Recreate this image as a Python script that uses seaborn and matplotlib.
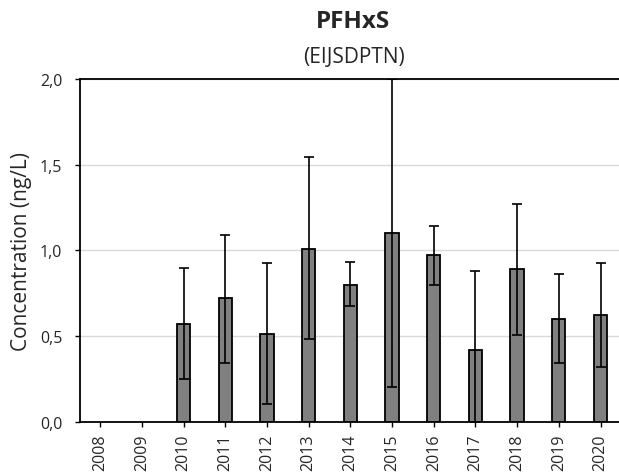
import numpy as np
import pandas as pd
import seaborn as sns
import matplotlib.pyplot as plt

years = ['2008', '2009', '2010', '2011', '2012', '2013', '2014',
         '2015', '2016', '2017', '2018', '2019', '2020']
means = [np.nan, np.nan, 0.57, 0.72, 0.51, 1.01, 0.80,
         1.10, 0.97, 0.42, 0.89, 0.60, 0.62]
lower = [np.nan, np.nan, 0.25, 0.345, 0.105, 0.48, 0.675,
         0.20, 0.795, 0.0, 0.505, 0.34, 0.32]
upper = [np.nan, np.nan, 0.895, 1.09, 0.925, 1.545, 0.93,
         2.0, 1.145, 0.88, 1.27, 0.86, 0.925]

df = pd.DataFrame({'year': years, 'mean': means, 'lo': lower, 'hi': upper})

sns.set_style('white')
plt.rcParams['font.family'] = ['Open Sans', 'DejaVu Sans']

fig = plt.figure(figsize=(6.19, 4.77), dpi=100)
ax = fig.add_axes([79.5 / 619, 1 - 422.7 / 477, 1 - 79.5 / 619, (422.7 - 80) / 477])

sns.barplot(data=df, x='year', y='mean', order=years, color='#808080',
            edgecolor='black', linewidth=1.3, width=0.32, saturation=1,
            errorbar=None, ax=ax)

# asymmetric error bars
pos = np.arange(len(years))
ok = df['mean'].notna().values
yerr = [(df['mean'] - df['lo']).values[ok], (df['hi'] - df['mean']).values[ok]]
ax.errorbar(pos[ok], df['mean'].values[ok], yerr=yerr, fmt='none',
            ecolor='black', elinewidth=1.2, capsize=3.5, capthick=1.2, zorder=3)

ax.set_ylim(0, 2.0)
ax.set_xlim(-0.5, -0.5 + (619 - 79.5) / 41.68)
ax.set_yticks([0, 0.5, 1.0, 1.5, 2.0])
ax.set_yticklabels(['0,0', '0,5', '1,0', '1,5', '2,0'], fontsize=11.5)
ax.set_xticks(pos)
ax.set_xticklabels(years, rotation=90, fontsize=11.5)
ax.yaxis.grid(True, color='#d9d9d9', linewidth=1)
ax.set_axisbelow(True)
ax.tick_params(axis='both', direction='out', length=3.5, width=1, color='black',
               left=True, bottom=True)
ax.tick_params(axis='y', pad=9)
ax.tick_params(axis='x', pad=5)
for side in ['left', 'bottom', 'top']:
    ax.spines[side].set_color('black')
    ax.spines[side].set_linewidth(1.3)
ax.spines['right'].set_visible(False)

ax.set_xlabel('')
ax.set_ylabel('Concentration (ng/L)', fontsize=15)
ax.yaxis.set_label_coords((32 - 79.5) / 539.5, 0.5)

fig.text(353.5 / 619, 1 - 21.7 / 477, 'PFHxS', ha='center', va='center',
         fontsize=17.5, fontweight='bold')
fig.text(353.5 / 619, 1 - 57.5 / 477, '(EIJSDPTN)', ha='center', va='center',
         fontsize=15)

fig.savefig('out.png', dpi=100)
